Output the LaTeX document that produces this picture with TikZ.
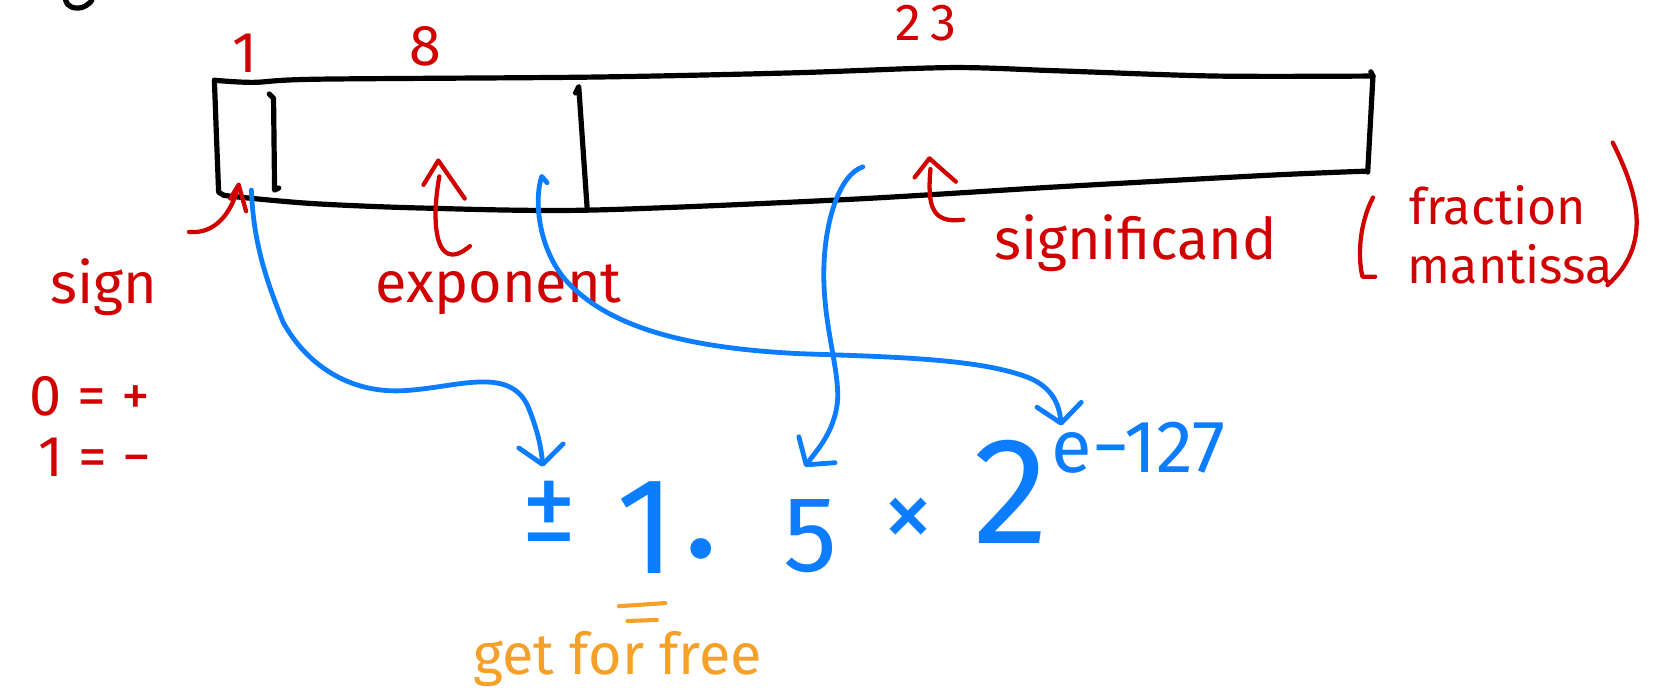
\documentclass[tikz,border=0pt]{standalone}
\usepackage{fontspec}
\setmainfont{Fira Sans}
\usetikzlibrary{arrows.meta}
\definecolor{inkred}{RGB}{208,0,0}
\definecolor{inkblue}{RGB}{12,125,255}
\definecolor{inkorange}{RGB}{245,160,40}
\tikzset{
  boxline/.style={line width=2.8pt, line cap=round, line join=round},
  redink/.style={draw=inkred, line width=2.3pt, line cap=round, line join=round},
  blueink/.style={draw=inkblue, line width=2.6pt, line cap=round, line join=round},
  bluearrow/.style={blueink, -{Straight Barb[length=10pt,width=24pt,line width=2.6pt,round]}},
  redlabel/.style={text=inkred, inner sep=0pt, font=\fontsize{31}{33}\selectfont},
  bluelabel/.style={text=inkblue, inner sep=0pt},
  orangelabel/.style={text=inkorange, inner sep=0pt, font=\fontsize{31}{33}\selectfont},
}
\begin{document}
\begin{tikzpicture}[x=0.02cm,y=-0.02cm]
\useasboundingbox (0,0) rectangle (1568,655);
% cut-off stroke at the top left
\draw[boxline] (62,0) .. controls (63,6) and (70,9) .. (78,7) .. controls (83,5) and (86,2) .. (87,0);
% the word box
\draw[boxline] plot[smooth] coordinates {(203,76) (240,78) (300,75) (560,73) (750,69) (900,64) (1000,67) (1150,72) (1300,72)};
\draw[boxline] (1298,68) -- (1300,72) -- (1295,163);
\draw[boxline] plot[smooth] coordinates {(1295,162) (1200,166) (1000,177) (800,189) (556,199) (400,197) (300,193) (240,188) (212,185)};
\draw[boxline] (203,76) -- (205,130) -- (207,182) -- (212,185);
\draw[boxline] (255,89) -- (259,93) -- (260,180) -- (264,178);
\draw[boxline] (545,88) -- (548,82) -- (556,198);
% field coordinates
\coordinate (sgnA) at (238,180);
\coordinate (expA) at (513,167);
\coordinate (sigA) at (817,158);
% bit counts
\node[redlabel] (n1) at (232,50) {1};
\node[redlabel] (n8) at (403,44) {8};
\node[redlabel, font=\fontsize{28}{30}\selectfont] (n23) at (877,22) {2\kern5pt3};
% red arrows and labels
\node[redlabel] (sign) at (98,272) {sign};
\node[redlabel] (zero) at (85,375) {0 = +};
\node[redlabel] (onem) at (90,433) {1 = −};
\node[redlabel] (expo) at (472,274) {exponent};
\node[redlabel] (signif) at (1075,230) {significand};
\node[redlabel, font=\fontsize{27}{29}\selectfont] (frac) at (1418,194) {fraction};
\node[redlabel, font=\fontsize{27}{29}\selectfont] (mant) at (1430,250) {mantissa};
\coordinate (signtip) at (226,175);
\coordinate (exptip) at (415,152);
\coordinate (sigtip) at (880,150);
\draw[redink] (sign.north east) ++(30,-25) .. controls (205,222) and (220,200) .. (signtip);
\draw[redink] (218,188) -- (signtip) -- (233,200);
\draw[redink] (401,175) -- (exptip) -- (440,188);
\draw[redink] (exptip) ++(1,15) .. controls (410,200) and (410,240) .. (428,241) .. controls (436,241) and (441,236) .. (445,233);
\draw[redink] (866,168) -- (sigtip) -- (905,172);
\draw[redink] (sigtip) ++(1,10) .. controls (878,195) and (882,212) .. (912,208);
\draw[redink] (1300,187) .. controls (1288,210) and (1285,240) .. (1290,262) -- (1302,262);
\draw[redink] (1527,135) .. controls (1552,185) and (1564,232) .. (1522,270);
% formula
\node[bluelabel, font=\fontsize{60}{62}\selectfont] (pm) at (520,484) {±};
\node[bluelabel, font=\fontsize{74}{76}\selectfont] (one) at (612,500) {1};
\node[bluelabel, font=\fontsize{80}{82}\selectfont] (dot) at (664,520) {.};
\node[bluelabel, font=\fontsize{58}{60}\selectfont] (five) at (767,508) {5};
\node[bluelabel, font=\fontsize{56}{58}\selectfont] (times) at (860,495) {×};
\node[bluelabel, font=\fontsize{82}{84}\selectfont] (two) at (957,466) {2};
\node[bluelabel, font=\fontsize{40}{42}\selectfont] (ex) at (1078,424) {e−127};
\node[orangelabel] (free) at (585,624) {get for free};
\draw[draw=inkorange, line width=2.2pt, line cap=round] (586,574) -- (630,571);
\draw[draw=inkorange, line width=2.2pt, line cap=round] (594,588) -- (622,587);
% blue connectors
\coordinate (pmtip) at (514,442);
\coordinate (fivetip) at (762,442);
\coordinate (extip) at (1005,403);
\draw[bluearrow] (sgnA) .. controls (240,230) and (252,265) .. (268,305) .. controls (290,345) and (330,372) .. (380,370) .. controls (430,368) and (482,345) .. (500,385) .. controls (508,405) and (512,420) .. (pmtip);
\draw[bluearrow] (expA) ++(5,6) -- (expA) .. controls (505,190) and (510,240) .. (540,270) .. controls (580,310) and (650,330) .. (760,335) .. controls (850,338) and (930,340) .. (975,358) .. controls (998,368) and (1003,385) .. (extip);
\draw[bluearrow] (sigA) .. controls (795,165) and (780,210) .. (780,260) .. controls (780,310) and (795,350) .. (793,380) .. controls (790,410) and (772,428) .. (fivetip);
\end{tikzpicture}
\end{document}
